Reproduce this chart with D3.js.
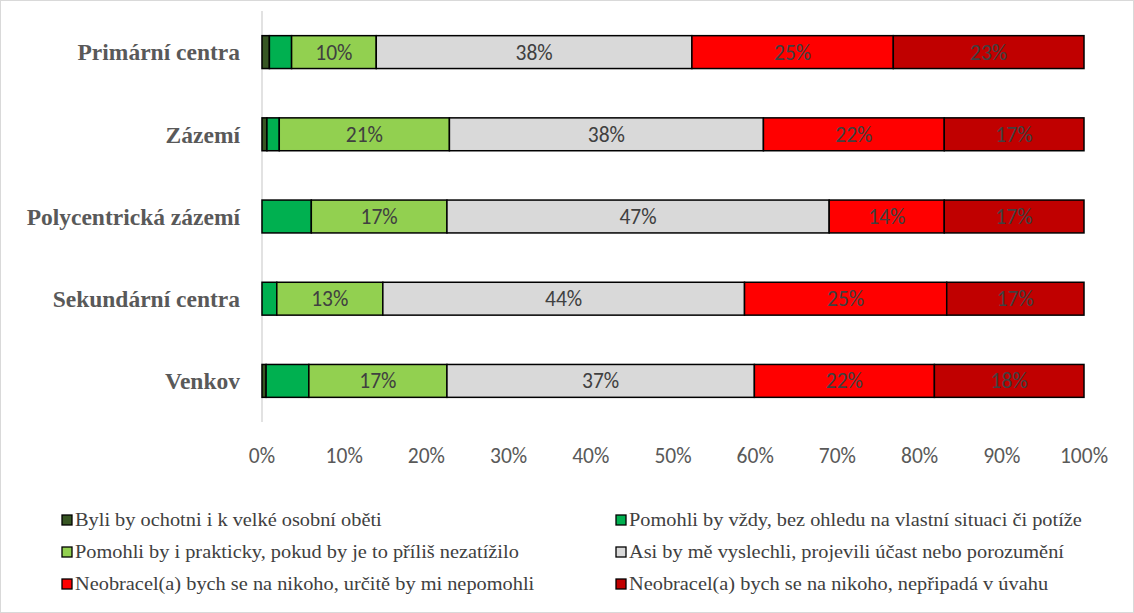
<!DOCTYPE html>
<html>
<head>
<meta charset="utf-8">
<script src="https://cdn.jsdelivr.net/npm/d3@7"></script>
<style>
  body { margin: 0; background: #fff; }
  svg { display: block; }
</style>
</head>
<body>
<svg width="1134" height="613"></svg>
<script>
// categories, top to bottom
var categories = ["Primární centra", "Zázemí", "Polycentrická zázemí", "Sekundární centra", "Venkov"];

// series (legend order)
var seriesNames = [
  "Byli by ochotni i k velké osobní oběti",
  "Pomohli by vždy, bez ohledu na vlastní situaci či potíže",
  "Pomohli by i prakticky, pokud by je to příliš nezatížilo",
  "Asi by mě vyslechli, projevili účast nebo porozumění",
  "Neobracel(a) bych se na nikoho, určitě by mi nepomohli",
  "Neobracel(a) bych se na nikoho, nepřipadá v úvahu"
];
var seriesColors = ["#375623", "#00B050", "#92D050", "#D9D9D9", "#FF0000", "#C00000"];

// values in %, one per category
var velkaObet   = [0.9, 0.6, 0.0, 0.0, 0.5];
var vzdy        = [2.7, 1.5, 6.0, 1.8, 5.2];
var prakticky   = [10.3, 20.7, 16.5, 12.9, 16.8];
var vyslechli   = [38.4, 38.2, 46.5, 44.0, 37.4];
var urciteNe    = [24.5, 22.0, 14.0, 24.6, 21.9];
var neprichazi  = [23.2, 17.0, 17.0, 16.7, 18.2];

var xTicks = [0, 10, 20, 30, 40, 50, 60, 70, 80, 90, 100];

var allSeries = [velkaObet, vzdy, prakticky, vyslechli, urciteNe, neprichazi];

var rows = categories.map(function(c, i) {
  var o = { cat: c };
  allSeries.forEach(function(s, k) { o["s" + k] = s[i]; });
  return o;
});
var keys = seriesNames.map(function(d, k) { return "s" + k; });
var stacked = d3.stack().keys(keys)(rows);

const svg = d3.select("svg");

// outer chart border
svg.append("rect")
  .attr("x", 0.5).attr("y", 0.5)
  .attr("width", 1133).attr("height", 612)
  .attr("fill", "none").attr("stroke", "#d9d9d9");

var x = d3.scaleLinear().domain([0, 100]).range([262, 1084]);
var y = d3.scaleBand().domain(categories).range([11, 422]).paddingInner(0.6).paddingOuter(0.3);

// value axis line
svg.append("line")
  .attr("x1", x(0)).attr("x2", x(0))
  .attr("y1", 11).attr("y2", 422)
  .attr("stroke", "#d9d9d9").attr("stroke-width", 1.5);

// bars
var layers = svg.append("g").selectAll("g")
  .data(stacked)
  .enter().append("g")
  .attr("fill", function(d, k) { return seriesColors[k]; });

layers.selectAll("rect")
  .data(function(d) { return d; })
  .enter().append("rect")
  .filter(function(d) { return d[1] - d[0] > 0; })
  .attr("x", function(d) { return x(d[0]); })
  .attr("y", function(d) { return y(d.data.cat); })
  .attr("width", function(d) { return x(d[1]) - x(d[0]); })
  .attr("height", y.bandwidth())
  .attr("stroke", "#000")
  .attr("stroke-width", 1.5);

// data labels (only the bigger segments)
layers.selectAll("text")
  .data(function(d) { return d; })
  .enter().append("text")
  .filter(function(d) { return d[1] - d[0] >= 9; })
  .attr("x", function(d) { return (x(d[0]) + x(d[1])) / 2; })
  .attr("y", function(d) { return y(d.data.cat) + y.bandwidth() / 2; })
  .attr("dy", "0.35em")
  .attr("text-anchor", "middle")
  .attr("fill", "#404040")
  .style("font-family", "Carlito, 'Open Sans', sans-serif")
  .style("font-size", "21.5px")
  .text(function(d) { return Math.round(d[1] - d[0]) + "%"; });

// category labels
svg.append("g").selectAll("text")
  .data(categories)
  .enter().append("text")
  .attr("x", 240)
  .attr("y", function(d) { return y(d) + y.bandwidth() / 2; })
  .attr("dy", "0.35em")
  .attr("text-anchor", "end")
  .attr("fill", "#595959")
  .style("font-family", "'Liberation Serif', 'Times New Roman', serif")
  .style("font-weight", "bold")
  .style("font-size", "23.5px")
  .text(function(d) { return d; });

// x tick labels
svg.append("g").selectAll("text")
  .data(xTicks)
  .enter().append("text")
  .attr("x", function(d) { return x(d); })
  .attr("y", 463)
  .attr("text-anchor", "middle")
  .attr("fill", "#595959")
  .style("font-family", "Carlito, 'Open Sans', sans-serif")
  .style("font-size", "21.5px")
  .text(function(d) { return d + "%"; });

// legend
var legend = svg.append("g").selectAll("g")
  .data(seriesNames)
  .enter().append("g")
  .attr("transform", function(d, k) {
    var col = k % 2, row = Math.floor(k / 2);
    return "translate(" + (col === 0 ? 62 : 616) + "," + (520 + row * 32) + ")";
  });

legend.append("rect")
  .attr("x", 0).attr("y", -5)
  .attr("width", 10).attr("height", 10)
  .attr("fill", function(d, k) { return seriesColors[k]; })
  .attr("stroke", "#000").attr("stroke-width", 1.3);

legend.append("text")
  .attr("transform", "translate(13,0) scale(1.1,1)")
  .attr("dy", "0.35em")
  .attr("fill", "#404040")
  .style("font-family", "'Liberation Serif', 'Times New Roman', serif")
  .style("font-size", "18.5px")
  .text(function(d) { return d; });
</script>
</body>
</html>
